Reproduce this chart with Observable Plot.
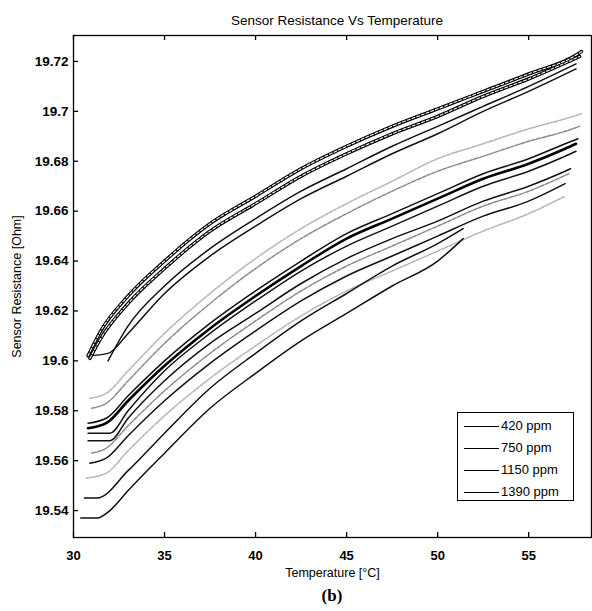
<!DOCTYPE html>
<html><head><meta charset="utf-8">
<script src="https://cdn.jsdelivr.net/npm/d3@7"></script>
<script src="https://cdn.jsdelivr.net/npm/@observablehq/plot@0.6"></script>
<style>
body{margin:0;background:#fff;font-family:"Liberation Sans",Arial,sans-serif;color:#000;}
#wrap{position:relative;width:592px;height:611px;overflow:hidden;}
#title{position:absolute;left:78px;width:518px;top:13px;text-align:center;font-size:13.5px;}
#chart{position:absolute;left:0;top:30px;}
#cap{position:absolute;left:73px;width:518px;top:586px;text-align:center;font:bold 17px "Liberation Serif","DejaVu Serif",serif;}
#legend{position:absolute;left:457px;top:412px;width:117px;height:89px;border:1.5px solid #000;background:#fff;box-sizing:border-box;}
.row{position:absolute;left:6px;height:22px;line-height:22px;font-size:13px;}
.row .sw{position:absolute;left:0;top:11px;width:35px;border-top:1.5px solid #000;}
.row .tx{position:absolute;left:37px;white-space:nowrap;}
</style></head>
<body>
<div id="wrap">
  <div id="title"></div>
  <div id="chart"></div>
  <div id="legend"></div>
  <div id="cap"></div>
</div>
<script>
// ---- text ----
const titleText = "Sensor Resistance Vs Temperature";
const xLabel = "Temperature [°C]";
const yLabel = "Sensor Resistance [Ohm]";
const captionText = "(b)";
const legendLabels = ["420 ppm", "750 ppm", "1150 ppm", "1390 ppm"];

// ---- tick labels ----
const xTicks = [30, 35, 40, 45, 50, 55];
const yTicks = [19.54, 19.56, 19.58, 19.6, 19.62, 19.64, 19.66, 19.68, 19.7, 19.72];

// ---- curves: [temperature °C, resistance Ohm] ----
const top420a = [[30.8,19.602],[31.5,19.612],[33,19.626],[35,19.640],[37.5,19.655],[40,19.666],[42.5,19.677],[45,19.686],[47.5,19.694],[50,19.701],[52.5,19.708],[55,19.715],[57.7,19.723],[57.9,19.724]];
const top420b = [[30.9,19.601],[31.5,19.609],[33,19.623],[35,19.637],[37.5,19.652],[40,19.663],[42.5,19.674],[45,19.683],[47.5,19.691],[50,19.698],[52.5,19.706],[55,19.713],[57.8,19.722]];
const top420c = [[31.9,19.600],[33,19.614],[35,19.630],[37.5,19.645],[40,19.657],[42.5,19.668],[45,19.677],[47.5,19.686],[50,19.694],[52.5,19.702],[55,19.710],[57.6,19.719]];
const top420d = [[30.8,19.602],[31.9,19.603],[33,19.611],[35,19.627],[37.5,19.642],[40,19.654],[42.5,19.665],[45,19.674],[47.5,19.683],[50,19.691],[52.5,19.700],[55,19.708],[57.6,19.717]];

const mid750a = [[30.9,19.585],[31.8,19.587],[33,19.596],[35,19.611],[37.5,19.627],[40,19.641],[42.5,19.653],[45,19.663],[47.5,19.672],[50,19.681],[52.5,19.687],[55,19.693],[57,19.697],[57.9,19.699]];
const mid750b = [[31.0,19.581],[31.8,19.583],[33,19.592],[35,19.607],[37.5,19.623],[40,19.637],[42.5,19.649],[45,19.659],[47.5,19.668],[50,19.676],[52.5,19.682],[55,19.688],[57,19.692],[57.8,19.694]];
const mid750c = [[31.0,19.563],[31.8,19.565],[33,19.574],[35,19.588],[37.5,19.603],[40,19.616],[42.5,19.628],[45,19.638],[47.5,19.646],[50,19.654],[52.5,19.662],[55,19.668],[57.2,19.675]];
const mid750d = [[30.7,19.553],[31.8,19.555],[33,19.564],[35,19.578],[37.5,19.593],[40,19.606],[42.5,19.618],[45,19.628],[47.5,19.636],[50,19.644],[52.5,19.652],[55,19.659],[57,19.666]];

const mid1150a = [[30.8,19.575],[31.8,19.577],[33,19.586],[35,19.600],[37.5,19.615],[40,19.628],[42.5,19.640],[45,19.651],[47.5,19.659],[50,19.667],[52.5,19.675],[55,19.681],[57,19.687],[57.7,19.689]];
const mid1150b = [[30.8,19.573],[31.8,19.575],[33,19.584],[35,19.598],[37.5,19.613],[40,19.626],[42.5,19.638],[45,19.649],[47.5,19.657],[50,19.665],[52.5,19.673],[55,19.679],[57,19.685],[57.6,19.687]];
const mid1150c = [[30.8,19.571],[32.0,19.571],[33,19.580],[35,19.596],[37.5,19.611],[40,19.624],[42.5,19.636],[45,19.646],[47.5,19.654],[50,19.662],[52.5,19.670],[55,19.676],[57,19.682],[57.6,19.684]];
const mid1150d = [[30.8,19.568],[32.0,19.568],[33,19.577],[35,19.592],[37.5,19.607],[40,19.619],[42.5,19.631],[45,19.641],[47.5,19.649],[50,19.656],[52.5,19.664],[55,19.670],[57,19.676],[57.3,19.677]];

const low1390a = [[30.9,19.559],[31.8,19.561],[33,19.570],[35,19.584],[37.5,19.599],[40,19.612],[42.5,19.624],[45,19.634],[47.5,19.642],[50,19.650],[52.5,19.658],[55,19.664],[57,19.671]];
const low1390b = [[30.6,19.545],[31.3,19.545],[33,19.556],[35,19.571],[37.5,19.589],[40,19.603],[42.5,19.616],[45,19.627],[47.5,19.638],[50,19.647],[51.4,19.653]];
const low1390c = [[30.4,19.537],[31.3,19.537],[32,19.540],[33,19.548],[35,19.563],[37.5,19.581],[40,19.595],[42.5,19.608],[45,19.619],[47.5,19.630],[50,19.640],[51.4,19.649]];

const curves = [
  {id:"top420a", ppm:"420 ppm", pts: top420a, style:"tube"},
  {id:"top420b", ppm:"420 ppm", pts: top420b, style:"tube"},
  {id:"top420c", ppm:"420 ppm", pts: top420c, style:"black"},
  {id:"top420d", ppm:"420 ppm", pts: top420d, style:"black"},
  {id:"mid750a", ppm:"750 ppm", pts: mid750a, style:"light"},
  {id:"mid750b", ppm:"750 ppm", pts: mid750b, style:"grey"},
  {id:"mid750c", ppm:"750 ppm", pts: mid750c, style:"grey"},
  {id:"mid750d", ppm:"750 ppm", pts: mid750d, style:"light"},
  {id:"mid1150a", ppm:"1150 ppm", pts: mid1150a, style:"black"},
  {id:"mid1150b", ppm:"1150 ppm", pts: mid1150b, style:"thick"},
  {id:"mid1150c", ppm:"1150 ppm", pts: mid1150c, style:"black"},
  {id:"mid1150d", ppm:"1150 ppm", pts: mid1150d, style:"black"},
  {id:"low1390a", ppm:"1390 ppm", pts: low1390a, style:"black"},
  {id:"low1390b", ppm:"1390 ppm", pts: low1390b, style:"black"},
  {id:"low1390c", ppm:"1390 ppm", pts: low1390c, style:"black"}
];

const rows = curves.flatMap(c => c.pts.map(([t, r]) => ({id: c.id, ppm: c.ppm, style: c.style, t, r})));
const sel = s => rows.filter(d => d.style === s);

const fmtY = d => String(+d.toFixed(2));
const font = '"Liberation Sans", Arial, sans-serif';

const W = 592, H = 552, mT = 5, mB = 45, mL = 73, mR = 1, tick = 5;
const frameH = H - mT - mB, frameW = W - mL - mR;

const chart = Plot.plot({
  width: W,
  height: H,
  marginTop: mT,
  marginBottom: mB,
  marginLeft: mL,
  marginRight: mR,
  style: {fontFamily: font, background: "#fff", color: "#000"},
  x: {domain: [30, 58.45]},
  y: {domain: [19.5292, 19.7304]},
  marks: [
    Plot.line(sel("light"), {x: "t", y: "r", z: "id", stroke: "#b8b8b8", strokeWidth: 1.6, strokeDasharray: "3,1.5", curve: "monotone-x"}),
    Plot.line(sel("grey"), {x: "t", y: "r", z: "id", stroke: "#8a8a8a", strokeWidth: 1.5, strokeDasharray: "4,1.5", curve: "monotone-x"}),
    Plot.line(sel("black"), {x: "t", y: "r", z: "id", stroke: "#111", strokeWidth: 1.5, curve: "monotone-x"}),
    Plot.line(sel("thick"), {x: "t", y: "r", z: "id", stroke: "#000", strokeWidth: 2.6, curve: "monotone-x"}),
    Plot.line(sel("tube"), {x: "t", y: "r", z: "id", stroke: "#000", strokeWidth: 3.4, curve: "monotone-x"}),
    Plot.line(sel("tube"), {x: "t", y: "r", z: "id", stroke: "#fff", strokeWidth: 1.1, strokeDasharray: "3,2", curve: "monotone-x"}),
    Plot.frame({stroke: "#000", strokeWidth: 1.3}),
    // inward ticks
    Plot.tickX(xTicks, {x: d => d, insetTop: frameH - tick, stroke: "#000", strokeWidth: 1.3}),
    Plot.tickX(xTicks, {x: d => d, insetBottom: frameH - tick, stroke: "#000", strokeWidth: 1.3}),
    Plot.tickY(yTicks, {y: d => d, insetRight: frameW - tick, stroke: "#000", strokeWidth: 1.3}),
    // labels
    Plot.axisX(xTicks, {anchor: "bottom", tickSize: 0, tickPadding: 13, fontSize: 13, fontWeight: "bold",
      label: xLabel, labelAnchor: "center", labelArrow: "none", labelOffset: 39}),
    Plot.axisY(yTicks, {anchor: "left", tickSize: 0, tickPadding: 5, fontSize: 13.5, fontWeight: "bold", tickFormat: fmtY,
      label: yLabel, labelAnchor: "center", labelArrow: "none", labelOffset: 61})
  ]
});
document.getElementById("chart").appendChild(chart);
chart.querySelectorAll('[aria-label$="axis label"] text, [aria-label$="axis label"]').forEach(e => {
  e.setAttribute("font-size", "12.5"); e.setAttribute("font-weight", "normal");
});

document.getElementById("title").textContent = titleText;
document.getElementById("cap").textContent = captionText;

const leg = document.getElementById("legend");
legendLabels.forEach((lab, i) => {
  const row = document.createElement("div");
  row.className = "row";
  row.style.top = (2 + i * 22) + "px";
  row.innerHTML = '<span class="sw"></span><span class="tx"></span>';
  row.querySelector(".tx").textContent = lab;
  leg.appendChild(row);
});
</script>
</body></html>
